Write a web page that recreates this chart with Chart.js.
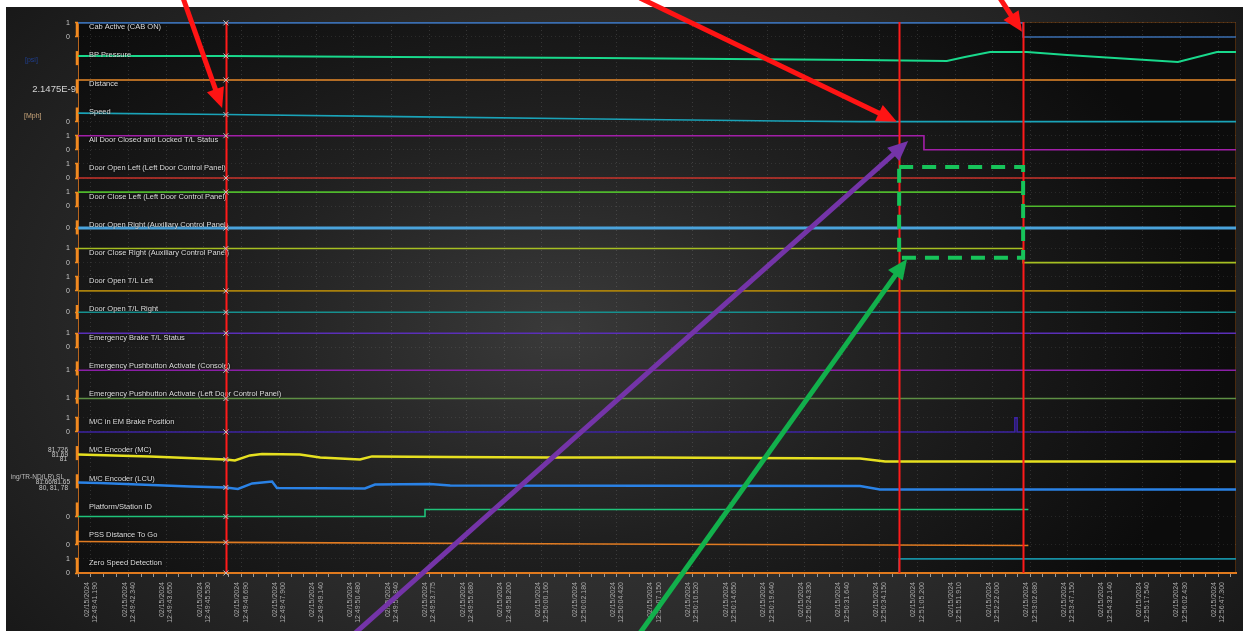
<!DOCTYPE html>
<html>
<head>
<meta charset="utf-8">
<title>Door and brake signal trace</title>
<script src="https://cdn.jsdelivr.net/npm/chart.js@4.4.1/dist/chart.umd.min.js"></script>
<style>
  html, body { margin: 0; padding: 0; background: #fff; }
  canvas { display: block; }
</style>
</head>
<body>
<canvas id="trace" width="1249" height="631"></canvas>
<script>
// time axis: one label every sample step, three minor marks per step
const tickDate = '02/15/2024';
const tickTimes = [
  '12:49:41.190', '12:49:42.340', '12:49:43.650', '12:49:45.530', '12:49:46.690',
  '12:49:47.900', '12:49:49.140', '12:49:50.480', '12:49:51.840', '12:49:53.775',
  '12:49:55.680', '12:49:58.200', '12:50:00.160', '12:50:02.180', '12:50:04.420',
  '12:50:07.150', '12:50:10.520', '12:50:14.650', '12:50:19.640', '12:50:24.330',
  '12:50:31.640', '12:50:34.150', '12:51:05.200', '12:51:51.910', '12:52:22.000',
  '12:53:02.680', '12:53:47.150', '12:54:32.140', '12:55:17.540', '12:56:02.430',
  '12:56:47.300'
];

const trackNames = [
  'Cab Active (CAB ON)',
  'BP Pressure',
  'Distance',
  'Speed',
  'All Door Closed and Locked T/L Status',
  'Door Open Left (Left Door Control Panel)',
  'Door Close Left (Left Door Control Panel)',
  'Door Open Right (Auxiliary Control Panel)',
  'Door Close Right (Auxiliary Control Panel)',
  'Door Open T/L Left',
  'Door Open T/L Right',
  'Emergency Brake T/L Status',
  'Emergency Pushbutton Activate (Console)',
  'Emergency Pushbutton Activate (Left Door Control Panel)',
  'M/C in EM Brake Position',
  'M/C Encoder (MC)',
  'M/C Encoder (LCU)',
  'Platform/Station ID',
  'PSS Distance To Go',
  'Zero Speed Detection'
];

const trackColors = [
  '#3a6db0', '#19d98c', '#e88a2a', '#1aa3b8', '#a21fa8',
  '#c8332b', '#4fb82c', '#4aa3dc', '#a6bf22', '#a8800c',
  '#16908f', '#5a2fb8', '#8a1fa6', '#5e8f44', '#3c23a3',
  '#e6e020', '#2a82e6', '#1fc27a', '#e07b22', '#168fa3'
];

// value at the bottom and at the top of each track's band
const trackRanges = [
  [0, 1], [80, 100], [0, 2.26e-9], [0, 10], [0, 1],
  [0, 1], [0, 1], [-0.45, 0.55], [0, 1], [0, 1],
  [-0.48, 0.52], [0, 1], [0, 2.7], [0, 2.7], [0, 1],
  [81.6, 81.8], [81.6, 81.8], [0, 2], [0, 50], [0, 1]
];

// values labelled on the left axis
const trackTicks = [
  [1, 0], [], [], [0], [1, 0],
  [1, 0], [1, 0], [0], [1, 0], [1, 0],
  [0], [1, 0], [1], [1], [1, 0],
  [], [], [0], [0], [1, 0]
];

// samples: [sample position, value]; a value holds until the next sample
const cabActive       = [[-0.35, 1], [24.81, 0], [30.48, 0]];
const bpPressure      = [[-0.35, 93.1], [3.59, 93.1], [8.22, 91.6], [13.55, 90.2], [20.47, 87.4],
                         [22.78, 86.0], [23.26, 91.6], [23.93, 98.7], [24.91, 98.7], [25.98, 94.5],
                         [28.93, 84.5], [29.97, 98.7], [30.48, 98.7]];
const distance        = [[-0.35, 2.1475e-9], [30.48, 2.1475e-9]];
const speed           = [[-0.35, 6.0], [3.59, 5.0], [8.22, 3.5], [13.55, 1.8], [18.34, 0.4],
                         [20.47, 0], [30.48, 0]];
const allDoorClosed   = [[-0.35, 1], [22.17, 0], [30.48, 0]];
const doorOpenLeft    = [[-0.35, 0], [30.48, 0]];
const doorCloseLeft   = [[-0.35, 1], [24.81, 0], [30.48, 0]];
const doorOpenRight   = [[-0.35, 0], [30.48, 0]];
const doorCloseRight  = [[-0.35, 1], [24.81, 0], [30.48, 0]];
const doorOpenTLLeft  = [[-0.35, 0], [30.48, 0]];
const doorOpenTLRight = [[-0.35, 0], [30.48, 0]];
const emBrakeTL       = [[-0.35, 1], [30.48, 1]];
const epbConsole      = [[-0.35, 1], [30.48, 1]];
const epbLeftPanel    = [[-0.35, 1], [30.48, 1]];
const mcEmBrake       = [[-0.35, 0], [24.59, 1], [24.65, 0], [30.48, 0]];
const encoderMC       = [[-0.35, 81.681], [1.57, 81.653], [2.90, 81.624], [3.59, 81.610], [3.83, 81.596],
                         [4.23, 81.667], [4.55, 81.688], [5.56, 81.681], [6.10, 81.638], [7.16, 81.610],
                         [7.48, 81.653], [9.56, 81.645], [12.22, 81.638], [14.88, 81.638], [17.54, 81.631],
                         [20.47, 81.624], [21.14, 81.582], [30.48, 81.582]];
const encoderLCU      = [[-0.35, 81.684], [0.24, 81.677], [2.64, 81.627], [3.59, 81.613], [3.91, 81.591],
                         [4.29, 81.670], [4.82, 81.698], [4.95, 81.606], [7.29, 81.599], [7.56, 81.655],
                         [9.02, 81.662], [9.56, 81.641], [20.47, 81.634], [21.00, 81.584], [30.48, 81.584]];
const platformId      = [[-0.35, 0], [8.89, 1], [24.95, 1]];
const pssDistance     = [[-0.35, 11.7], [3.59, 8.5], [13.55, 3.0], [24.95, -2.5]];
const zeroSpeed       = [[-0.35, 0], [21.51, 1], [30.48, 1]];

const signals = [
  cabActive, bpPressure, distance, speed, allDoorClosed,
  doorOpenLeft, doorCloseLeft, doorOpenRight, doorCloseRight, doorOpenTLLeft,
  doorOpenTLRight, emBrakeTL, epbConsole, epbLeftPanel, mcEmBrake,
  encoderMC, encoderLCU, platformId, pssDistance, zeroSpeed
];
const analogTracks = [1, 2, 3, 15, 16, 18];

// cursors and marked events
const cursors = [3.59, 21.51, 24.81];
const callouts = [
  { from: [2.45, 20.38], to: [3.49, 16.48], color: '#ff1414' },
  { from: [14.61, 20.38], to: [21.45, 15.99], color: '#ff1414' },
  { from: [24.19, 20.38], to: [24.78, 19.18], color: '#ff1414' },
  { from: [7.03, -2.13], to: [21.75, 15.31], color: '#7434a8' },
  { from: [14.61, -2.13], to: [21.72, 11.13], color: '#12b04c' }
];
const doorWindow = { x0: 21.51, x1: 24.81, y0: 11.17, y1: 14.39 };

const FONT = '"Liberation Sans", Arial, sans-serif';
const TRACK_COUNT = trackNames.length;

// each track gets a band of half an axis unit, stacked from the bottom
function toAxis(i, v) {
  const [lo, hi] = trackRanges[i];
  return (TRACK_COUNT - 1 - i) + 0.5 * (v - lo) / (hi - lo);
}
function bandPos(i, f) {
  return (TRACK_COUNT - 1 - i) + 0.5 * f;
}
function valueAt(pts, x, stepped) {
  for (let k = pts.length - 1; k >= 0; k--) {
    if (pts[k][0] <= x) {
      if (stepped || k === pts.length - 1) return pts[k][1];
      const [x0, v0] = pts[k], [x1, v1] = pts[k + 1];
      return v0 + (v1 - v0) * (x - x0) / (x1 - x0);
    }
  }
  return pts[0][1];
}

const yTickList = [];
trackTicks.forEach((vals, i) => vals.forEach(v => yTickList.push({ value: toAxis(i, v), label: String(v) })));
yTickList.sort((a, b) => a.value - b.value);

// unit and range notes on the left margin
const axisNotes = [
  { track: 1, f: 0.37, text: '[psi]', x: 25, align: 'left', color: '#1f3f8f', size: 7 },
  { track: 2, f: 0.31, text: '2.1475E-9', x: 76, align: 'right', color: '#d4d4d4', size: 9.5 },
  { track: 3, f: 0.39, text: '[Mph]', x: 24, align: 'left', color: '#c9a57a', size: 7 },
  { track: 15, f: 0.69, text: '81.726', x: 68, align: 'right', color: '#c8c8c8', size: 6.5 },
  { track: 15, f: 0.33, text: '81.69', x: 68, align: 'right', color: '#c8c8c8', size: 6.5 },
  { track: 15, f: 0.05, text: '81', x: 67, align: 'right', color: '#c8c8c8', size: 6.5 },
  { track: 16, f: 0.77, text: 'ing/TR-ND(LR) SL', x: 64, align: 'right', color: '#bdbdbd', size: 6.5 },
  { track: 16, f: 0.42, text: '81.66/81.65', x: 70, align: 'right', color: '#c8c8c8', size: 6.5 },
  { track: 16, f: -0.01, text: '80, 81, 78', x: 68, align: 'right', color: '#c8c8c8', size: 6.5 }
];

const backdrop = {
  id: 'backdrop',
  beforeDraw(chart) {
    const { ctx, chartArea: a, width, height } = chart;
    ctx.save();
    ctx.fillStyle = '#ffffff';
    ctx.fillRect(0, 0, width, height);
    ctx.save();
    ctx.translate(620, 320);
    ctx.scale(1.5, 1);
    const g = ctx.createRadialGradient(0, 0, 0, 0, 0, 520);
    g.addColorStop(0, '#424242');
    g.addColorStop(0.6, '#2b2b2b');
    g.addColorStop(1, '#181818');
    ctx.fillStyle = g;
    ctx.fillRect(-620 / 1.5, -320, 1249 / 1.5, 700);
    ctx.restore();
    ctx.save();
    ctx.beginPath();
    ctx.rect(0, 0, 6, height);
    ctx.rect(0, 0, width, 7);
    ctx.rect(1243, 0, 6, height);
    ctx.fillStyle = '#ffffff';
    ctx.fill();
    ctx.restore();
    ctx.save();
    ctx.beginPath();
    ctx.rect(a.left, a.top, a.right - a.left, a.bottom - a.top);
    ctx.clip();
    ctx.translate(560, 330);
    ctx.scale(1.6, 1);
    const p = ctx.createRadialGradient(0, 0, 0, 0, 0, 420);
    p.addColorStop(0, '#3a3a3a');
    p.addColorStop(0.5, '#202020');
    p.addColorStop(1, '#0c0c0c');
    ctx.fillStyle = p;
    ctx.fillRect(-560 / 1.6, -330, 1249 / 1.6, 700);
    ctx.restore();
    ctx.strokeStyle = '#4a2a0e';
    ctx.lineWidth = 1;
    ctx.strokeRect(a.left + 0.5, a.top + 0.5, a.right - a.left - 1, a.bottom - a.top - 1);
    ctx.restore();
  }
};

const trackLabels = {
  id: 'trackLabels',
  afterDatasetsDraw(chart) {
    const { ctx, chartArea: a, scales: { y } } = chart;
    ctx.save();
    ctx.font = '7.5px ' + FONT;
    ctx.textAlign = 'left';
    ctx.textBaseline = 'middle';
    ctx.shadowColor = 'rgba(0,0,0,0.9)';
    ctx.shadowBlur = 2;
    ctx.fillStyle = '#dedede';
    trackNames.forEach((name, i) => {
      ctx.fillText(name, a.left + 11, y.getPixelForValue(bandPos(i, 0.69)));
    });
    ctx.restore();
  }
};

function arrow(ctx, x0, y0, x1, y1, color) {
  const ang = Math.atan2(y1 - y0, x1 - x0);
  const len = 20, half = 9;
  const bx = x1 - len * Math.cos(ang), by = y1 - len * Math.sin(ang);
  ctx.strokeStyle = color;
  ctx.fillStyle = color;
  ctx.lineWidth = 5;
  ctx.lineCap = 'butt';
  ctx.beginPath();
  ctx.moveTo(x0, y0);
  ctx.lineTo(bx + 2 * Math.cos(ang), by + 2 * Math.sin(ang));
  ctx.stroke();
  ctx.beginPath();
  ctx.moveTo(x1, y1);
  ctx.lineTo(bx - half * Math.sin(ang), by + half * Math.cos(ang));
  ctx.lineTo(bx + half * Math.sin(ang), by - half * Math.cos(ang));
  ctx.closePath();
  ctx.fill();
}

const overlays = {
  id: 'overlays',
  afterDraw(chart) {
    const { ctx, chartArea: a, scales: { x, y } } = chart;
    ctx.save();

    // left-margin notes
    axisNotes.forEach(n => {
      ctx.font = n.size + 'px ' + FONT;
      ctx.textAlign = n.align;
      ctx.textBaseline = 'middle';
      ctx.fillStyle = n.color;
      ctx.fillText(n.text, n.x, y.getPixelForValue(bandPos(n.track, n.f)));
    });

    // orange range brackets on the left axis
    ctx.strokeStyle = '#f08a20';
    ctx.lineWidth = 2.5;
    trackNames.forEach((_, i) => {
      ctx.beginPath();
      ctx.moveTo(a.left - 1, y.getPixelForValue(bandPos(i, 1)));
      ctx.lineTo(a.left - 1, y.getPixelForValue(bandPos(i, 0)));
      ctx.stroke();
    });

    // cursors
    ctx.strokeStyle = '#ff1a1a';
    ctx.lineWidth = 2;
    cursors.forEach(c => {
      const px = Math.round(x.getPixelForValue(c)) + 0.5;
      ctx.beginPath();
      ctx.moveTo(px, a.top);
      ctx.lineTo(px, a.bottom);
      ctx.stroke();
    });

    // crossing marks on the first cursor
    const cx = x.getPixelForValue(cursors[0]);
    ctx.strokeStyle = '#c4c4c4';
    ctx.lineWidth = 1;
    signals.forEach((pts, i) => {
      const v = valueAt(pts, cursors[0], !analogTracks.includes(i));
      const py = y.getPixelForValue(toAxis(i, v));
      ctx.beginPath();
      ctx.moveTo(cx - 2.5, py - 2.5); ctx.lineTo(cx + 2.5, py + 2.5);
      ctx.moveTo(cx + 2.5, py - 2.5); ctx.lineTo(cx - 2.5, py + 2.5);
      ctx.stroke();
    });

    // door command window
    const rx0 = x.getPixelForValue(doorWindow.x0), rx1 = x.getPixelForValue(doorWindow.x1);
    const ry0 = y.getPixelForValue(doorWindow.y1), ry1 = y.getPixelForValue(doorWindow.y0);
    ctx.strokeStyle = '#17c45a';
    ctx.lineWidth = 4;
    ctx.setLineDash([14, 9]);
    ctx.strokeRect(rx0, ry0, rx1 - rx0, ry1 - ry0);
    ctx.setLineDash([]);

    callouts.forEach(c => {
      arrow(ctx,
        x.getPixelForValue(c.from[0]), y.getPixelForValue(c.from[1]),
        x.getPixelForValue(c.to[0]), y.getPixelForValue(c.to[1]), c.color);
    });
    ctx.restore();
  }
};

const datasets = signals.map((pts, i) => ({
  label: trackNames[i],
  data: pts.map(([px, v]) => ({ x: px, y: toAxis(i, v) })),
  borderColor: trackColors[i],
  borderWidth: i === 7 ? 3 : (i === 15 || i === 16) ? 2.5 : i === 1 ? 2 : 1.6,
  stepped: analogTracks.includes(i) ? false : 'before',
  tension: 0,
  pointRadius: 0,
  fill: false
}));

new Chart(document.getElementById('trace'), {
  type: 'line',
  data: { datasets },
  plugins: [backdrop, trackLabels, overlays],
  options: {
    responsive: false,
    animation: false,
    events: [],
    layout: { padding: { left: 8, right: 13, top: 22, bottom: 0 } },
    plugins: { legend: { display: false }, tooltip: { enabled: false } },
    scales: {
      x: {
        type: 'linear',
        min: -0.346,
        max: 30.476,
        afterBuildTicks: (scale) => {
          const t = [];
          for (let k = -1; k <= 91; k++) t.push({ value: k / 3 });
          scale.ticks = t;
        },
        afterFit: (scale) => {
          scale.height = 58;
          scale.paddingLeft = 0;
          scale.paddingRight = 0;
        },
        ticks: {
          autoSkip: false,
          minRotation: 90,
          maxRotation: 90,
          padding: 5,
          labelOffset: -4,
          color: '#aaaaaa',
          font: { family: FONT, size: 7 },
          callback: (value) => {
            const k = Math.round(value * 3);
            return k >= 0 && k % 3 === 0 ? [tickDate, tickTimes[k / 3]] : '';
          }
        },
        grid: {
          color: (c) => (Math.round(c.tick.value * 3) % 3 === 0 ? 'rgba(255,255,255,0.13)' : 'rgba(0,0,0,0)'),
          tickColor: '#9a9a9a',
          tickLength: 4,
          tickBorderDash: []
        },
        border: { color: '#e07a1e', width: 2, dash: [1, 3], z: 1 }
      },
      y: {
        type: 'linear',
        min: 0,
        max: 19.53,
        afterBuildTicks: (scale) => {
          scale.ticks = yTickList.map(t => ({ value: t.value }));
        },
        afterFit: (scale) => {
          scale.width = 70;
          scale.paddingTop = 0;
          scale.paddingBottom = 0;
        },
        ticks: {
          autoSkip: false,
          padding: 5,
          color: '#c8c8c8',
          font: { family: FONT, size: 7 },
          callback: (value, index) => yTickList[index].label
        },
        grid: {
          color: 'rgba(255,255,255,0.09)',
          tickColor: '#f08a20',
          tickLength: 3,
          tickWidth: 1.5,
          tickBorderDash: []
        },
        border: { color: '#b8641c', width: 1, dash: [1, 3] }
      }
    }
  }
});
</script>
</body>
</html>
